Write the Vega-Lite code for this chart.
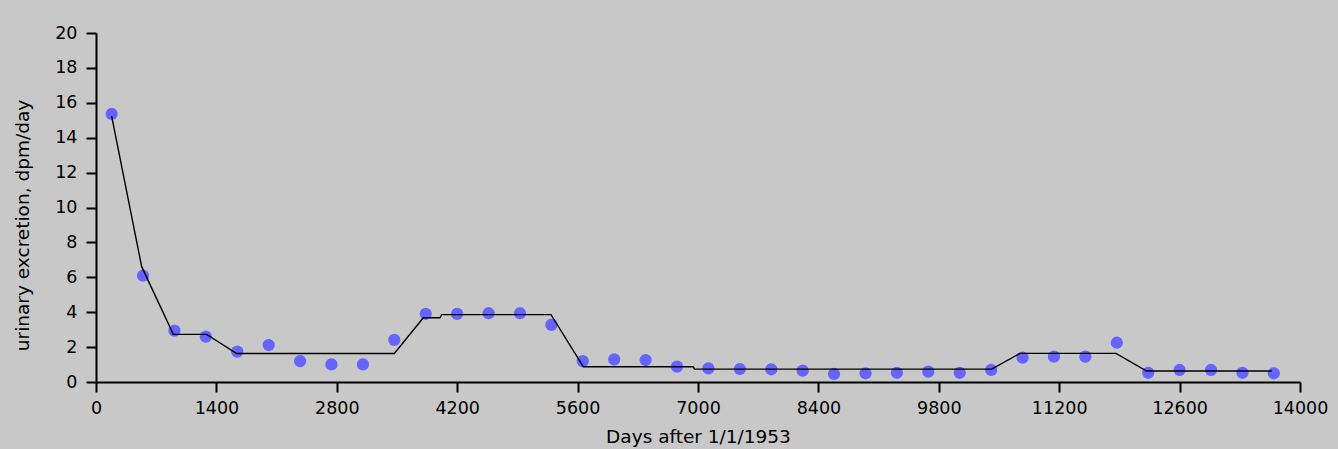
{
  "$schema": "https://vega.github.io/schema/vega-lite/v6.json",
  "width": 1204,
  "height": 349,
  "autosize": {"type": "none"},
  "padding": {"left": 96, "top": 33, "right": 38, "bottom": 67},
  "background": "#c8c8c8",
  "config": {
    "view": {"stroke": null},
    "font": "DejaVu Sans",
    "axis": {
      "domainColor": "#000000",
      "domainWidth": 2,
      "tickColor": "#000000",
      "tickWidth": 2,
      "tickSize": 10,
      "labelColor": "#000000",
      "labelFont": "DejaVu Sans",
      "labelFontSize": 17.5,
      "titleColor": "#000000",
      "titleFont": "DejaVu Sans",
      "titleFontSize": 18.5,
      "titleFontWeight": "normal",
      "grid": false
    }
  },
  "datasets": {
    "obs": [
      {"day": 182, "value": 15.36},
      {"day": 547, "value": 6.09},
      {"day": 912, "value": 2.94},
      {"day": 1277, "value": 2.6},
      {"day": 1643, "value": 1.74},
      {"day": 2008, "value": 2.12},
      {"day": 2373, "value": 1.2},
      {"day": 2738, "value": 1.01},
      {"day": 3104, "value": 1.01},
      {"day": 3469, "value": 2.41},
      {"day": 3834, "value": 3.91},
      {"day": 4199, "value": 3.9},
      {"day": 4565, "value": 3.94},
      {"day": 4930, "value": 3.94},
      {"day": 5295, "value": 3.27},
      {"day": 5660, "value": 1.2},
      {"day": 6026, "value": 1.3},
      {"day": 6391, "value": 1.26},
      {"day": 6756, "value": 0.88},
      {"day": 7121, "value": 0.78},
      {"day": 7487, "value": 0.745},
      {"day": 7852, "value": 0.73},
      {"day": 8217, "value": 0.65},
      {"day": 8582, "value": 0.46},
      {"day": 8948, "value": 0.5},
      {"day": 9313, "value": 0.53},
      {"day": 9678, "value": 0.59},
      {"day": 10043, "value": 0.53},
      {"day": 10409, "value": 0.69},
      {"day": 10774, "value": 1.39},
      {"day": 11139, "value": 1.45},
      {"day": 11504, "value": 1.45},
      {"day": 11870, "value": 2.25},
      {"day": 12235, "value": 0.53},
      {"day": 12600, "value": 0.69},
      {"day": 12965, "value": 0.69},
      {"day": 13331, "value": 0.53},
      {"day": 13696, "value": 0.5}
    ],
    "model": [
      {"day": 182, "value": 15.24},
      {"day": 531, "value": 6.61},
      {"day": 899, "value": 2.73},
      {"day": 1287, "value": 2.73},
      {"day": 1636, "value": 1.63},
      {"day": 3469, "value": 1.63},
      {"day": 3806, "value": 3.68},
      {"day": 4000, "value": 3.68},
      {"day": 4020, "value": 3.86},
      {"day": 5291, "value": 3.86},
      {"day": 5667, "value": 0.87},
      {"day": 6946, "value": 0.87},
      {"day": 6960, "value": 0.74},
      {"day": 10415, "value": 0.74},
      {"day": 10744, "value": 1.64},
      {"day": 11860, "value": 1.64},
      {"day": 12217, "value": 0.63},
      {"day": 13671, "value": 0.63}
    ]
  },
  "encoding": {
    "x": {
      "field": "day",
      "type": "quantitative",
      "scale": {"domain": [0, 14000], "nice": false, "zero": false},
      "axis": {
        "title": "Days after 1/1/1953",
        "values": [0, 1400, 2800, 4200, 5600, 7000, 8400, 9800, 11200, 12600, 14000],
        "format": "d",
        "labelPadding": 7,
        "titlePadding": 11,
        "labelFlush": false,
        "labelOverlap": false
      }
    },
    "y": {
      "field": "value",
      "type": "quantitative",
      "scale": {"domain": [0, 20], "nice": false},
      "axis": {
        "title": "urinary excretion, dpm/day",
        "values": [0, 2, 4, 6, 8, 10, 12, 14, 16, 18, 20],
        "format": "d",
        "labelPadding": 9,
        "titlePadding": 22,
        "titleY": 192,
        "labelFlush": false,
        "labelOverlap": false
      }
    }
  },
  "layer": [
    {
      "data": {"name": "obs"},
      "mark": {"type": "circle", "size": 150, "color": "#6464ff", "opacity": 1}
    },
    {
      "data": {"name": "model"},
      "mark": {"type": "line", "color": "#000000", "strokeWidth": 1.4}
    }
  ]
}
